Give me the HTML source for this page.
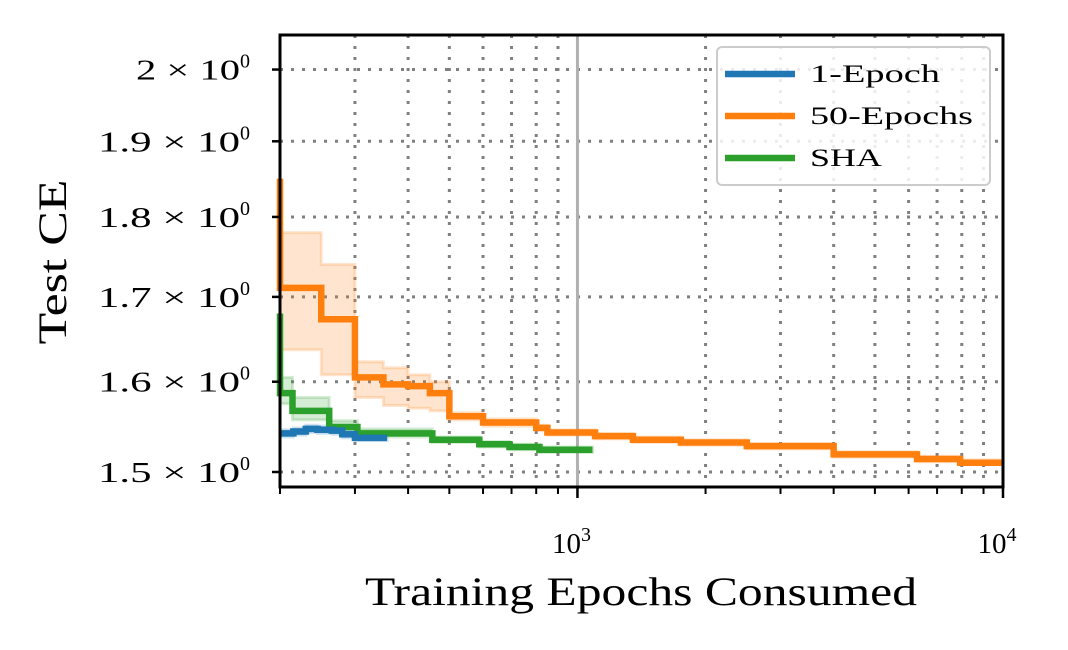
<!DOCTYPE html>
<html><head><meta charset="utf-8"><style>
html,body{margin:0;padding:0;background:#fff}
svg{display:block;font-family:"Liberation Serif","DejaVu Serif",serif}
</style></head><body>
<svg id="c" width="1068" height="650" viewBox="0 0 1068 650" xmlns="http://www.w3.org/2000/svg">
<g id="grid"></g>
<g id="bands"></g>
<g id="lines"></g>
<g id="axes"></g>
</svg>
<script>
const orangeX=[200,250,300,350,400,450,500,600,800,850,1100,1350,1750,2500,4000,6280,7930,10000];
const orangeY=[1.711,1.673,1.605,1.597,1.595,1.587,1.561,1.554,1.548,1.543,1.539,1.535,1.532,1.528,1.519,1.514,1.510,1.510];
const orangeLo=[1.637,1.608,1.582,1.573,1.570,1.567,1.557,1.550,1.545,1.540,1.536,1.532,1.529,1.525,1.516,1.511,1.508,1.508];
const orangeHi=[1.780,1.740,1.623,1.616,1.608,1.600,1.565,1.558,1.551,1.546,1.542,1.538,1.535,1.531,1.522,1.517,1.513,1.513];
const greenX=[200,214,261,304,456,588,692,814,1085];
const greenY=[1.587,1.567,1.549,1.542,1.535,1.530,1.527,1.524,1.524];
const greenLo=[1.575,1.557,1.543,1.538,1.532,1.527,1.524,1.521,1.521];
const greenHi=[1.605,1.582,1.556,1.547,1.538,1.533,1.530,1.527,1.527];
const blueX=[200,215,230,245,265,280,300,357];
const blueY=[1.542,1.544,1.547,1.546,1.545,1.541,1.537,1.537];
const blueLo=[1.538,1.540,1.543,1.542,1.541,1.537,1.534,1.534];
const blueHi=[1.546,1.548,1.551,1.550,1.549,1.545,1.540,1.540];
const yTicks=[1.5,1.6,1.7,1.8,1.9,2.0];
const yTickLabels=["1.5","1.6","1.7","1.8","1.9","2"];
const xMajor=[1000,10000];
const xMajorLabels=["3","4"];
const xMinor=[300,400,500,600,700,800,900,2000,3000,4000,5000,6000,7000,8000,9000];

const L=280,R=1003,T=35,B=487;
const X0=Math.log10(200),X1=4;
const Y0=Math.log10(1.484),Y1=Math.log10(2.05);
const sx=v=>L+(Math.log10(v)-X0)/(X1-X0)*(R-L);
const sy=v=>B-(Math.log10(v)-Y0)/(Y1-Y0)*(B-T);
const NS="http://www.w3.org/2000/svg";
function mk(tag,parent,attrs){const e=document.createElementNS(NS,tag);for(const k in attrs)e.setAttribute(k,attrs[k]);parent.appendChild(e);return e;}
const grid=document.getElementById('grid'),bands=document.getElementById('bands'),lines=document.getElementById('lines'),axes=document.getElementById('axes');

yTicks.forEach((v,i)=>{
  const g=mk('line',grid,{x1:L,x2:R,y1:sy(v),y2:sy(v),stroke:'#808080','stroke-width':3,'stroke-dasharray':'3 8'});
  
  
});
xMinor.forEach(v=>{
  const g=mk('line',grid,{x1:sx(v),x2:sx(v),y1:T,y2:B,stroke:'#808080','stroke-width':3,'stroke-dasharray':'3 8'});
  
  
});
const vl=mk('line',grid,{x1:sx(1000),x2:sx(1000),y1:T,y2:B,stroke:'#b0b0b0','stroke-width':3});



function stepPath(xs,ys){let d='M'+sx(xs[0])+','+sy(ys[0]);for(let i=1;i<xs.length;i++){d+='H'+sx(xs[i])+'V'+sy(ys[i]);}return d;}
function bandPath(xs,lo,hi){let d='M'+sx(xs[0])+','+sy(hi[0]);for(let i=1;i<xs.length;i++){d+='H'+sx(xs[i])+'V'+sy(hi[i]);}
  d+='V'+sy(lo[lo.length-1]);for(let i=xs.length-1;i>0;i--){d+='H'+sx(xs[i])+'V'+sy(lo[i-1]);}d+='H'+sx(xs[0])+'Z';return d;}

const series=[
 {n:'orange',c:'#ff7f0e',x:orangeX,y:orangeY,lo:orangeLo,hi:orangeHi,start:1.85},
 {n:'green',c:'#2ca02c',x:greenX,y:greenY,lo:greenLo,hi:greenHi,start:1.68},
 {n:'blue',c:'#1f77b4',x:blueX,y:blueY,lo:blueLo,hi:blueHi,start:null}
];
series.forEach(s=>{
  const b=mk('path',bands,{d:bandPath(s.x,s.lo,s.hi),fill:s.c,'fill-opacity':0.2,stroke:s.c,'stroke-opacity':0.2,'stroke-width':3});
  
  
  let d=stepPath(s.x,s.y);
  if(s.start!==null) d='M'+sx(s.x[0])+','+sy(s.start)+'V'+sy(s.y[0])+d.replace(/^M[^H]*/,'');
  const p=mk('path',lines,{d:d,fill:'none',stroke:s.c,'stroke-width':6.5});
  
  
});

const frame=mk('rect',axes,{x:L,y:T,width:R-L,height:B-T,fill:'none',stroke:'#000','stroke-width':3});


yTicks.forEach((v,i)=>{
  const t=mk('line',axes,{x1:L-8,x2:L,y1:sy(v),y2:sy(v),stroke:'#000','stroke-width':2.5});
  
  
  const tx=mk('text',axes,{x:250,y:sy(v)+10,'text-anchor':'end','font-size':29});
  
  
  const w=yTickLabels[i].length>1?142:104;
  tx.innerHTML='<tspan textLength="'+w+'" lengthAdjust="spacingAndGlyphs">'+yTickLabels[i]+' × 10</tspan><tspan dy="-12" font-size="20">0</tspan>';
});
xMinor.concat([200]).forEach(v=>{
  const t=mk('line',axes,{x1:sx(v),x2:sx(v),y1:B,y2:B+7,stroke:'#000','stroke-width':2});
  
  
});
xMajor.forEach((v,i)=>{
  const t=mk('line',axes,{x1:sx(v),x2:sx(v),y1:B,y2:B+11,stroke:'#000','stroke-width':2.5});
  
  
  const tx=mk('text',axes,{x:sx(v)-6,y:553,'text-anchor':'middle','font-size':29});
  
  
  tx.innerHTML='10<tspan dy="-12" font-size="20">'+xMajorLabels[i]+'</tspan>';
});
const xl=mk('text',axes,{x:641,y:605,'text-anchor':'middle','font-size':40,textLength:552,lengthAdjust:'spacingAndGlyphs'});


xl.textContent='Training Epochs Consumed';
const yl=mk('text',axes,{x:66,y:262,'text-anchor':'middle','font-size':40,textLength:165,lengthAdjust:'spacingAndGlyphs',transform:'rotate(-90 66 262)'});


yl.textContent='Test CE';

const leg=mk('g',axes,{});


const lb=mk('rect',leg,{x:717,y:47,width:273,height:138,rx:5,fill:'#fff','fill-opacity':0.85,stroke:'#cccccc','stroke-width':2});


[['#1f77b4','1-Epoch',74,130],['#ff7f0e','50-Epochs',116,163],['#2ca02c','SHA',158,72]].forEach(e=>{
  const g=mk('g',leg,{});
  
  
  mk('line',g,{x1:725,x2:795,y1:e[2],y2:e[2],stroke:e[0],'stroke-width':6.5});
  const t=mk('text',g,{x:810,y:e[2]+8,'font-size':25,textLength:e[3],lengthAdjust:'spacingAndGlyphs'});
  t.textContent=e[1];
});
</script>
</body></html>
